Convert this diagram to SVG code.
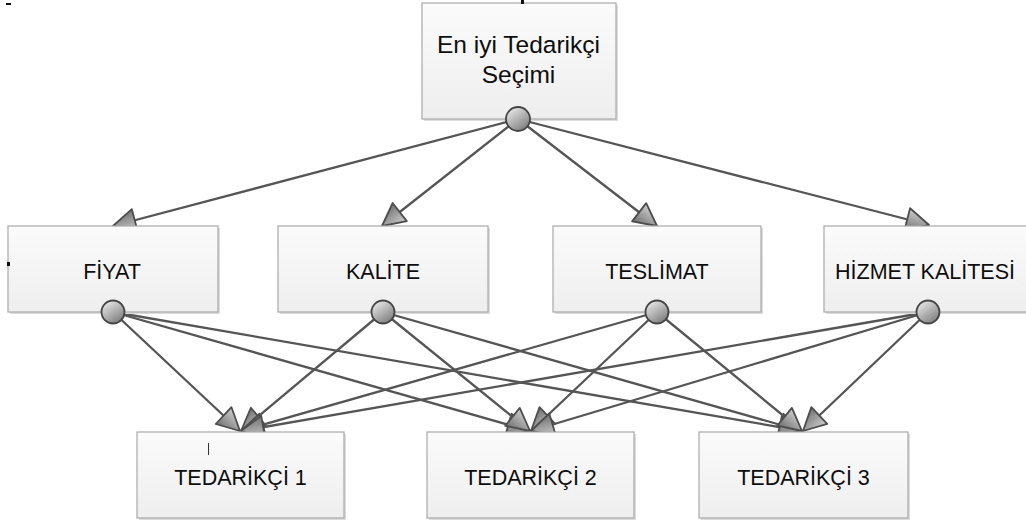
<svg xmlns="http://www.w3.org/2000/svg" width="1026" height="521" viewBox="0 0 1026 521">
<defs>
<linearGradient id="boxFill" x1="0" y1="0" x2="0" y2="1">
<stop offset="0" stop-color="#fbfbfb"/>
<stop offset="1" stop-color="#eeeeee"/>
</linearGradient>
<linearGradient id="ballFill" x1="0.2" y1="0.1" x2="0.8" y2="0.95">
<stop offset="0" stop-color="#e2e2e2"/>
<stop offset="1" stop-color="#7d7d7d"/>
</linearGradient>
<linearGradient id="headFill" x1="0" y1="0" x2="0" y2="1">
<stop offset="0" stop-color="#cfcfcf"/>
<stop offset="1" stop-color="#707070"/>
</linearGradient>
<marker id="arrow" viewBox="0 0 26 26" refX="24" refY="13" markerWidth="26" markerHeight="26" markerUnits="userSpaceOnUse" orient="auto">
<path d="M1.5,1.5 L24,13 L1.5,24.5 Z" fill="url(#headFill)" stroke="#4d4d4d" stroke-width="1.8" stroke-linejoin="round"/>
</marker>
</defs>
<style>
.box{fill:url(#boxFill);stroke:#a9a9a9;stroke-width:1.2}
.shadow{fill:#dcdcdc}
.ball{fill:url(#ballFill);stroke:#454545;stroke-width:1.8}
.lbl{font-family:"Liberation Sans","Open Sans",Arial,sans-serif;font-size:21.5px;fill:#0d0d0d;text-anchor:middle}
.top{font-size:24.5px}
.conn line{stroke:#555555;stroke-width:2.3;marker-end:url(#arrow)}
.mark{fill:#111111}
</style>
<rect width="1026" height="521" fill="#ffffff"/>

<g id="connectors" class="conn">
<line x1="518" y1="119" x2="113" y2="226"/>
<line x1="518" y1="119" x2="382" y2="226"/>
<line x1="518" y1="119" x2="657" y2="226"/>
<line x1="518" y1="119" x2="929" y2="225"/>

<line x1="113" y1="312" x2="240" y2="431"/>
<line x1="113" y1="312" x2="530" y2="431"/>
<line x1="113" y1="312" x2="802" y2="431"/>

<line x1="383" y1="312" x2="241" y2="431"/>
<line x1="383" y1="312" x2="530" y2="431"/>
<line x1="383" y1="312" x2="802" y2="431"/>

<line x1="657" y1="312" x2="241" y2="431"/>
<line x1="657" y1="312" x2="531" y2="431"/>
<line x1="657" y1="312" x2="802" y2="431"/>

<line x1="928" y1="312" x2="241" y2="431"/>
<line x1="928" y1="312" x2="531" y2="431"/>
<line x1="928" y1="312" x2="803" y2="431"/>
</g>

<g id="goal">
<rect class="shadow" x="424" y="5" width="194" height="116"/>
<rect class="box" x="422" y="3" width="194" height="116"/>
<text class="lbl top" x="518.5" y="53">En iyi Tedarikçi</text>
<text class="lbl top" x="518.5" y="83">Seçimi</text>
<circle class="ball" cx="518" cy="119" r="12"/>
</g>

<g id="fiyat">
<rect class="shadow" x="10" y="228" width="210" height="86"/>
<rect class="box" x="8" y="226" width="210" height="86"/>
<text class="lbl" x="112" y="279">FİYAT</text>
<circle class="ball" cx="113" cy="312" r="11.5"/>
</g>

<g id="kalite">
<rect class="shadow" x="280" y="228" width="210" height="86"/>
<rect class="box" x="278" y="226" width="210" height="86"/>
<text class="lbl" x="383" y="279">KALİTE</text>
<circle class="ball" cx="383" cy="312" r="11.5"/>
</g>

<g id="teslimat">
<rect class="shadow" x="555" y="228" width="208" height="86"/>
<rect class="box" x="553" y="226" width="208" height="86"/>
<text class="lbl" x="657" y="279">TESLİMAT</text>
<circle class="ball" cx="657" cy="312" r="11.5"/>
</g>

<g id="hizmet">
<rect class="shadow" x="826" y="228" width="210" height="86"/>
<rect class="box" x="824" y="226" width="210" height="86"/>
<text class="lbl" x="925" y="279">HİZMET KALİTESİ</text>
<circle class="ball" cx="928" cy="312" r="11.5"/>
</g>

<g id="tedarikci1">
<rect class="shadow" x="139" y="434" width="207" height="86"/>
<rect class="box" x="137" y="432" width="207" height="86"/>
<text class="lbl" x="240.5" y="485">TEDARİKÇİ 1</text>
<rect x="208" y="443" width="1" height="12" fill="#333333"/>
</g>

<g id="tedarikci2">
<rect class="shadow" x="429" y="434" width="207" height="86"/>
<rect class="box" x="427" y="432" width="207" height="86"/>
<text class="lbl" x="530.5" y="485">TEDARİKÇİ 2</text>
</g>

<g id="tedarikci3">
<rect class="shadow" x="701" y="434" width="209" height="86"/>
<rect class="box" x="699" y="432" width="209" height="86"/>
<text class="lbl" x="803.5" y="485">TEDARİKÇİ 3</text>
</g>

<rect class="mark" x="6" y="3" width="5" height="2"/>
<rect class="mark" x="521" y="0" width="3" height="4"/>
<rect class="mark" x="7" y="262" width="3" height="4"/>
</svg>
